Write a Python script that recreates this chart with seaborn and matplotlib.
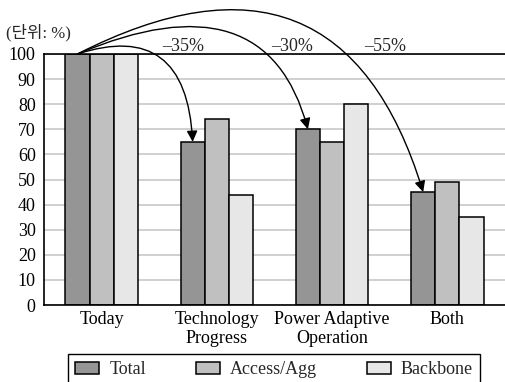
import matplotlib
matplotlib.use("Agg")
import matplotlib.pyplot as plt
import pandas as pd
import seaborn as sns

# Normalised power consumption (Today = 100) per scenario and network segment
categories = ["Today", "Technology\nProgress", "Power Adaptive\nOperation", "Both"]
series = ["Total", "Access/Agg", "Backbone"]
total = [100, 65, 70, 45]
access_agg = [100, 74, 65, 49]
backbone = [100, 44, 80, 35]
y_ticks = list(range(0, 101, 10))
unit_label = "(단위: %)"

sns.set_theme(style="white")
plt.rcParams["font.family"] = ["Liberation Serif", "Noto Sans CJK KR", "DejaVu Sans"]

df = pd.DataFrame({
    "category": categories * len(series),
    "series": [s for s in series for _ in categories],
    "value": total + access_agg + backbone,
})

W, H = 505, 382
fig = plt.figure(figsize=(W / 100, H / 100), dpi=100)
ax = fig.add_axes([44 / W, 1 - 305 / H, 1 - 44 / W, (305 - 54) / H])

palette = {"Total": "#959595", "Access/Agg": "#c0c0c0", "Backbone": "#e7e7e7"}
sns.barplot(data=df, x="category", y="value", hue="series",
            order=categories, hue_order=series, palette=palette,
            width=0.63, edgecolor="black", linewidth=1.1, saturation=1,
            ax=ax)

ax.set_xlim(-0.5, len(categories) - 0.5)
ax.set_ylim(0, 100)
ax.set_yticks(y_ticks)
ax.set_xlabel("")
ax.set_ylabel("")
ax.tick_params(axis="y", length=0, pad=6, labelsize=13, labelcolor="black")
ax.tick_params(axis="x", which="major", length=0, pad=4.5, labelsize=13, labelcolor="black")
ax.set_xticks([i + 0.5 for i in range(len(categories) - 1)], minor=True)
ax.tick_params(axis="x", which="minor", direction="in", length=5, width=1, color="black")
ax.yaxis.grid(True, color="#c8c8c8", linewidth=1.2)
ax.set_axisbelow(True)
for side in ("left", "bottom", "top"):
    ax.spines[side].set_color("black")
    ax.spines[side].set_linewidth(1.2)
ax.spines["right"].set_visible(False)
for lbl in ax.get_xticklabels():
    lbl.set_linespacing(1.15)

# Reduction arrows from today's total to each scenario's total
total_bars = ax.containers[0]
start = total_bars[0]
sx = start.get_x() + start.get_width() / 2
sy = start.get_height()
curves = [(18, 93), (23, 105), (27, 107)]
label_pos = [(0.706, 102.8), (1.652, 102.8), (2.459, 102.8)]
for bar, value, (a, b), (lx, ly) in zip(list(total_bars)[1:], total[1:], curves, label_pos):
    tx = bar.get_x() + bar.get_width() / 2
    ty = bar.get_height()
    ax.annotate("", xy=(tx, ty), xytext=(sx, sy), annotation_clip=False,
                arrowprops=dict(arrowstyle="-|>,head_length=0.65,head_width=0.32",
                                connectionstyle=f"angle3,angleA={a},angleB={b}",
                                color="black", lw=1.0, shrinkA=0, shrinkB=0,
                                mutation_scale=10))
    ax.text(lx, ly, f"\u2013{100 - value}%", ha="center", va="center",
            fontsize=13, clip_on=False)

fig.text(6 / W, 1 - 33 / H, unit_label, ha="left", va="center", fontsize=12)

handles = [c.patches[0] for c in ax.containers]
leg = ax.legend(handles, series, loc="upper center",
                bbox_to_anchor=(274 / W, 1 - 354 / H), bbox_transform=fig.transFigure,
                ncol=3, frameon=True, fancybox=False, edgecolor="black",
                borderpad=0.4, handlelength=1.35, handleheight=0.6,
                handletextpad=0.55, columnspacing=2.75, fontsize=13,
                borderaxespad=0)
leg.get_frame().set_linewidth(1.0)
leg.get_frame().set_alpha(1)

fig.savefig("out.png", dpi=100)
